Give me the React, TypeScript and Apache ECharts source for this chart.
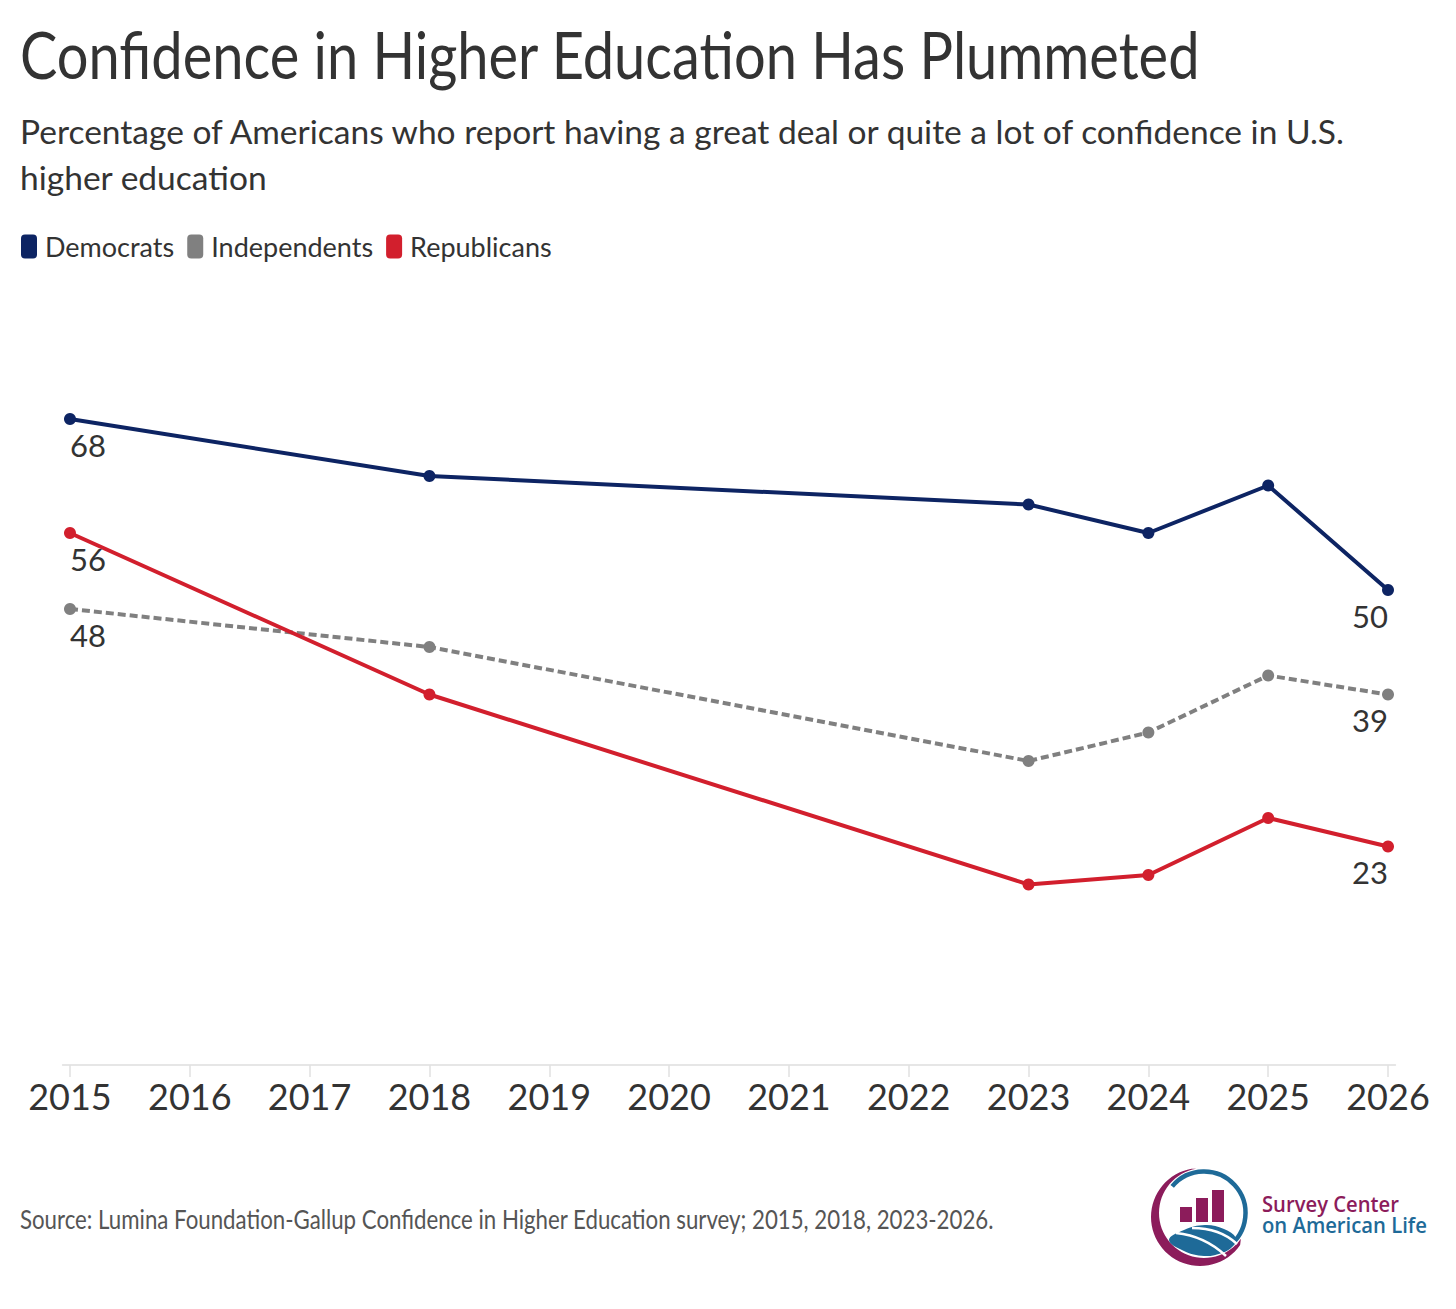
import { useEffect, useRef } from 'react';
import * as echarts from 'echarts';

// survey years that have data, and every year shown on the axis
const years = [2015, 2018, 2023, 2024, 2025, 2026];
const axisYears = [2015, 2016, 2017, 2018, 2019, 2020, 2021, 2022, 2023, 2024, 2025, 2026];

const democrats = [68, 62, 59, 56, 61, 50];
const independents = [48, 44, 32, 35, 41, 39];
const republicans = [56, 39, 19, 20, 26, 23];

const seriesNames = ['Democrats', 'Independents', 'Republicans'];

const titleText = 'Confidence in Higher Education Has Plummeted';
const subtitleLines = [
  'Percentage of Americans who report having a great deal or quite a lot of confidence in U.S.',
  'higher education',
];
const sourceText =
  'Source: Lumina Foundation-Gallup Confidence in Higher Education survey; 2015, 2018, 2023-2026.';
const logoLines = ['Survey Center', 'on American Life'];

const FONT = 'Lato, sans-serif';
const DEM = '#0d2463';
const IND = '#808080';
const REP = '#d21f2d';
const PURPLE = '#8c1c5b';
const BLUE = '#1e6a98';

// horizontal scale that makes a text run the same width as in the reference
function fitScale(text: string, font: string, width: number) {
  const ctx = document.createElement('canvas').getContext('2d');
  if (!ctx) return 1;
  ctx.font = font;
  const w = ctx.measureText(text).width;
  return w > 0 ? width / w : 1;
}

function crescent() {
  const pts: number[][] = [];
  const oc = [1200, 1217];
  const ic = [1204, 1213];
  for (let a = -100; a >= -325; a -= 5) {
    const r = (a * Math.PI) / 180;
    pts.push([oc[0] + 49 * Math.cos(r), oc[1] + 49 * Math.sin(r)]);
  }
  for (let a = -325; a <= -100; a += 5) {
    const r = (a * Math.PI) / 180;
    pts.push([ic[0] + 45 * Math.cos(r), ic[1] + 45 * Math.sin(r)]);
  }
  return pts;
}

function pointLabel(i: number) {
  if (i === 0) return { show: true, align: 'left' };
  if (i === years.length - 1) return { show: true, align: 'right' };
  return undefined;
}

function lineSeries(name: string, values: number[], color: string, dashed: boolean) {
  return {
    name,
    type: 'line',
    symbol: 'circle',
    symbolSize: 12,
    color,
    lineStyle: { color, width: 4, type: dashed ? [8, 4] : 'solid' },
    itemStyle: { color },
    label: {
      show: false,
      position: 'bottom',
      distance: 4,
      fontSize: 31,
      fontFamily: FONT,
      color: '#333',
      formatter: (p: any) => String(p.value[1]),
    },
    emphasis: { disabled: true },
    data: years.map((y, i) => ({ value: [y, values[i]], label: pointLabel(i) })),
  };
}

export default function App() {
  const chartRef = useRef<HTMLDivElement>(null);

  useEffect(() => {
    document.body.style.margin = '0';
    if (!chartRef.current) return;
    const chart = echarts.init(chartRef.current, null, { renderer: 'svg' });

    const titleFont = `400 65px ${FONT}`;
    const subFont = `400 33.5px ${FONT}`;
    const srcFont = `400 26px ${FONT}`;
    const logoFont = `600 21.5px "Open Sans", sans-serif`;
    const titleScale = fitScale(titleText, titleFont, 1181);
    const subScale = fitScale(subtitleLines[0], subFont, 1328);
    const srcScale = fitScale(sourceText, srcFont, 975);
    const logoScale1 = fitScale(logoLines[0], logoFont, 137);
    const logoScale2 = fitScale(logoLines[1], logoFont, 165);

    const option = {
      animation: false,
      backgroundColor: '#ffffff',
      legend: {
        data: seriesNames,
        left: 21,
        top: 233,
        padding: 0,
        itemGap: 13,
        itemWidth: 16,
        itemHeight: 24,
        icon: 'roundRect',
        selectedMode: false,
        itemStyle: { borderWidth: 0 },
        textStyle: { fontSize: 27, fontFamily: FONT, color: '#333', padding: [0, 0, 0, 3] },
      },
      grid: { left: 62.8, right: 60.8, top: 305, bottom: 244, containLabel: false },
      xAxis: {
        type: 'value',
        min: 2014.94,
        max: 2026.06,
        axisLine: { show: true, lineStyle: { color: '#e6e6e6', width: 2 } },
        axisTick: {
          show: true,
          customValues: axisYears,
          length: 12,
          lineStyle: { color: '#e0e0e0', width: 1.5 },
        },
        axisLabel: {
          customValues: axisYears,
          formatter: (v: number) => String(v),
          fontSize: 36,
          fontFamily: FONT,
          color: '#333',
          margin: 13,
        },
        splitLine: { show: false },
      },
      yAxis: { type: 'value', min: 0, max: 80, show: false },
      series: [
        lineSeries(seriesNames[0], democrats, DEM, false),
        lineSeries(seriesNames[1], independents, IND, true),
        lineSeries(seriesNames[2], republicans, REP, false),
      ],
      graphic: [
        {
          type: 'text',
          x: 20,
          y: 54,
          scaleX: titleScale,
          style: { text: titleText, font: titleFont, fill: '#333', verticalAlign: 'middle' },
        },
        ...subtitleLines.map((t, i) => ({
          type: 'text',
          x: 20,
          y: 131 + i * 46,
          scaleX: subScale,
          style: { text: t, font: subFont, fill: '#333', verticalAlign: 'middle' },
        })),
        {
          type: 'text',
          x: 20,
          y: 1219,
          scaleX: srcScale,
          style: { text: sourceText, font: srcFont, fill: '#555', verticalAlign: 'middle' },
        },
        // logo
        { type: 'polygon', shape: { points: crescent() }, style: { fill: PURPLE } },
        {
          type: 'arc',
          shape: {
            cx: 1204,
            cy: 1213,
            r: 41.5,
            startAngle: (-140 * Math.PI) / 180,
            endAngle: (55 * Math.PI) / 180,
            clockwise: true,
          },
          style: { stroke: BLUE, lineWidth: 4.5, fill: 'none' },
        },
        { type: 'rect', shape: { x: 1180, y: 1207, width: 12, height: 15 }, style: { fill: PURPLE } },
        { type: 'rect', shape: { x: 1196, y: 1198, width: 12, height: 24 }, style: { fill: PURPLE } },
        { type: 'rect', shape: { x: 1212, y: 1190, width: 12, height: 32 }, style: { fill: PURPLE } },
        {
          type: 'polygon',
          shape: {
            smooth: 0.4,
            points: [
              [1169, 1240],
              [1184, 1230],
              [1205, 1225],
              [1224, 1229],
              [1236, 1238],
              [1233, 1246],
              [1222, 1253],
              [1204, 1256],
              [1184, 1251],
            ],
          },
          style: { fill: BLUE },
        },
        {
          type: 'bezierCurve',
          shape: { x1: 1176, y1: 1233, cpx1: 1205, cpy1: 1236, x2: 1226, y2: 1256 },
          style: { stroke: '#fff', lineWidth: 2.5, fill: 'none' },
        },
        {
          type: 'bezierCurve',
          shape: { x1: 1192, y1: 1228, cpx1: 1220, cpy1: 1228, x2: 1237, y2: 1244 },
          style: { stroke: '#fff', lineWidth: 2.5, fill: 'none' },
        },
        {
          type: 'text',
          x: 1262,
          y: 1204,
          scaleX: logoScale1,
          style: { text: logoLines[0], font: logoFont, fill: PURPLE, verticalAlign: 'middle' },
        },
        {
          type: 'text',
          x: 1262,
          y: 1225,
          scaleX: logoScale2,
          style: { text: logoLines[1], font: logoFont, fill: BLUE, verticalAlign: 'middle' },
        },
      ],
    };

    chart.setOption(option);

    return () => {
      chart.dispose();
    };
  }, []);

  return <div ref={chartRef} style={{ width: 1456, height: 1309 }} />;
}
